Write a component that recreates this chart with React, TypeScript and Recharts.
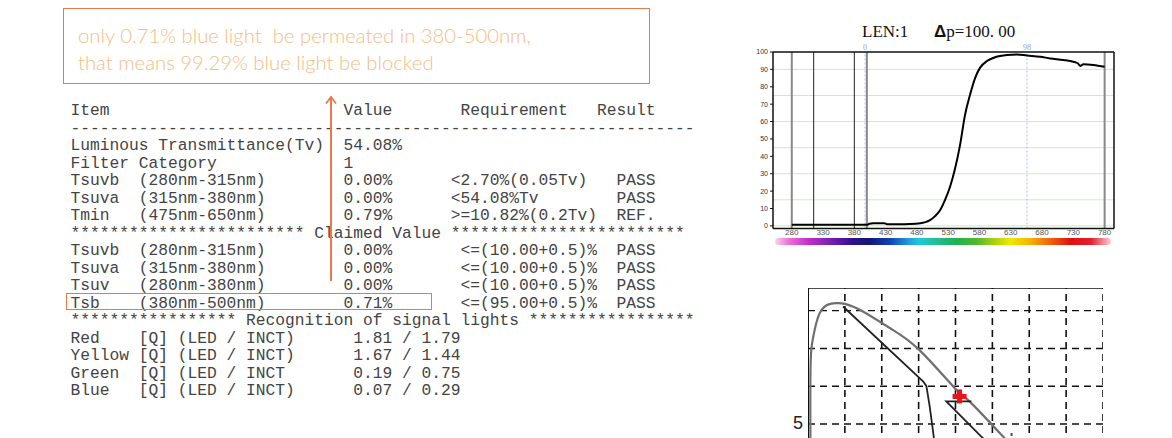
import React from 'react';
import { LineChart, ComposedChart, Line, XAxis, YAxis, ReferenceLine } from 'recharts';

// transmittance curve (nm -> %)
const wavelengths = [280, 320, 360, 400, 404, 410, 428, 432, 460, 478, 488, 495, 501, 509, 517, 525, 533, 541, 549, 557, 565, 573, 581, 592, 605, 624, 640, 656, 677, 693, 714, 730, 737, 741, 746, 762, 780];
const transmittance = [0.6, 0.6, 0.6, 0.6, 1.2, 1.5, 1.5, 1.0, 1.0, 1.2, 1.7, 2.3, 3.3, 5.6, 9, 15, 22.5, 33, 46.6, 64, 75.5, 85, 91, 94.8, 97, 98.3, 98.6, 98, 97.3, 96.3, 95.4, 94.4, 93.5, 92, 92.9, 92.5, 91.5];
const xTicks = [280, 330, 380, 430, 480, 530, 580, 630, 680, 730, 780];
const yTicks = [0, 10, 20, 30, 40, 50, 60, 70, 80, 90, 100];
const greenGrid = [0, 15, 30, 45, 60, 75, 90];
const thickMarkers = [280, 400, 780];
const thinMarkers = [315, 380];
const cursorAt = [397, 656];
const cursorLabels = ['0', '98'];

// CIE fragment
const locusX = [0.03, 0.012, 0.0065, 0.0065, 0.009, 0.018, 0.032, 0.054, 0.077, 0.1, 0.149, 0.222, 0.301, 0.398, 0.438, 0.529, 0.56];
const locusY = [0.36, 0.42, 0.467, 0.617, 0.697, 0.749, 0.794, 0.816, 0.82, 0.818, 0.798, 0.754, 0.697, 0.595, 0.56, 0.467, 0.435];
const innerX = [0.095, 0.312, 0.321, 0.33, 0.341, 0.345];
const innerY = [0.811, 0.613, 0.601, 0.547, 0.467, 0.42];
const yellowX = [0.443, 0.375, 0.47, 0.52];
const yellowY = [0.56, 0.56, 0.467, 0.42];
const cieGridX = [0.1, 0.2, 0.3, 0.4, 0.5, 0.6, 0.7, 0.8];
const cieGridY = [0.1, 0.2, 0.3, 0.4, 0.5, 0.6, 0.7, 0.8];
const markerPoint = [{ x: 0.411, y: 0.573 }];
const bluePoint = [{ x: 0.552, y: 0.471 }];

// report text
const header = ['Item', 'Value', 'Requirement', 'Result'];
const measuredRows = [
  ['Luminous Transmittance(Tv)', '', '54.08%', '', ''],
  ['Filter Category', '', '1', '', ''],
  ['Tsuvb', '(280nm-315nm)', '0.00%', '<2.70%(0.05Tv)', 'PASS'],
  ['Tsuva', '(315nm-380nm)', '0.00%', '<54.08%Tv', 'PASS'],
  ['Tmin', '(475nm-650nm)', '0.79%', '>=10.82%(0.2Tv)', 'REF.'],
];
const claimedRows = [
  ['Tsuvb', '(280nm-315nm)', '0.00%', '<=(10.00+0.5)%', 'PASS'],
  ['Tsuva', '(315nm-380nm)', '0.00%', '<=(10.00+0.5)%', 'PASS'],
  ['Tsuv', '(280nm-380nm)', '0.00%', '<=(10.00+0.5)%', 'PASS'],
  ['Tsb', '(380nm-500nm)', '0.71%', '<=(95.00+0.5)%', 'PASS'],
];
const signalRows = [
  ['Red', '[Q] (LED / INCT)', '1.81 / 1.79'],
  ['Yellow', '[Q] (LED / INCT)', '1.67 / 1.44'],
  ['Green', '[Q] (LED / INCT', '0.19 / 0.75'],
  ['Blue', '[Q] (LED / INCT)', '0.07 / 0.29'],
];
const noteLines = ['only 0.71% blue light  be permeated in 380-500nm,', 'that means 99.29% blue light be blocked'];

const zip = (xs: number[], ys: number[]) => xs.map((x, i) => ({ x, y: ys[i] }));

function compose(cols: string[], starts: number[]) {
  let s = '';
  cols.forEach((c, i) => {
    if (!c) return;
    s = s.padEnd(starts[i]) + c;
  });
  return s;
}

const ORANGE = '#E9784D';

const Cross = (p: any) => (
  <g>
    <rect x={p.cx - 7} y={p.cy - 2.5} width={14} height={5} fill="#e8141c" />
    <rect x={p.cx - 2.5} y={p.cy - 7} width={5} height={14} fill="#e8141c" />
  </g>
);
const BlueDot = (p: any) => <rect x={p.cx - 1} y={p.cy - 2} width={2} height={3} fill="#3040c0" />;

export default function App() {
  const curve = wavelengths.map((nm, i) => ({ nm, t: transmittance[i] }));
  const lines = [
    compose(header, [0, 28, 40, 54]),
    '-'.repeat(64),
    ...measuredRows.map((r) => compose(r, [0, 7, 28, 39, 56])),
    '*'.repeat(24) + ' Claimed Value ' + '*'.repeat(24),
    ...claimedRows.map((r) => compose(r, [0, 7, 28, 40, 56])),
    '*'.repeat(17) + ' Recognition of signal lights ' + '*'.repeat(17),
    ...signalRows.map((r) => compose(r, [0, 7, 29])),
  ];

  return (
    <div style={{ position: 'fixed', left: 0, top: 0, width: 1172, height: 438, overflow: 'hidden', background: '#fff' }}>
      {/* annotation */}
      <div style={{ position: 'absolute', left: 63, top: 7.5, width: 587, height: 76.5, boxSizing: 'border-box', border: `1.5px solid ${ORANGE}` }} />
      <div style={{ position: 'absolute', left: 78, top: 21.5, font: '300 20.3px/27px Lato, sans-serif', color: '#F3BD88', whiteSpace: 'pre' }}>
        {noteLines.join('\n')}
      </div>

      {/* report table */}
      <pre style={{ position: 'absolute', left: 70.5, top: 102, margin: 0, font: '16.25px/17.5px "Liberation Mono", monospace', color: '#444' }}>
        {lines.join('\n')}
      </pre>
      <div style={{ position: 'absolute', left: 66, top: 292.5, width: 366, height: 17, boxSizing: 'border-box', border: `1.5px solid ${ORANGE}` }} />
      <svg style={{ position: 'absolute', left: 0, top: 0 }} width={1172} height={438}>
        <line x1={331} y1={281} x2={331} y2={98} stroke={ORANGE} strokeWidth={2} />
        <polyline points="326,103.5 331,97 336,103.5" fill="none" stroke={ORANGE} strokeWidth={1.8} />
      </svg>

      {/* transmittance chart */}
      <div style={{ position: 'absolute', left: 862, top: 22, font: '17px "Liberation Serif", serif', color: '#111', whiteSpace: 'pre' }}>LEN:1</div>
      <div style={{ position: 'absolute', left: 934, top: 22, font: '17px "Liberation Serif", serif', color: '#111', whiteSpace: 'pre' }}>
        <b style={{ fontFamily: '"Liberation Sans", sans-serif' }}>Δ</b>p=100. 00
      </div>
      <div style={{ position: 'absolute', left: 740, top: 40 }}>
        <LineChart width={390} height={210} data={curve} margin={{ top: 12, right: 16, bottom: 1.5, left: 1 }}>
          <XAxis type="number" dataKey="nm" domain={[250, 795]} ticks={xTicks} allowDataOverflow
            axisLine={{ stroke: '#111', strokeWidth: 1.5 }} tickLine={false} tickSize={0} tickMargin={1} height={20}
            tick={{ fontSize: 8, fill: '#555', fontFamily: '"Liberation Sans", sans-serif' }} />
          <YAxis type="number" domain={[-1.5, 100]} ticks={yTicks} allowDataOverflow width={32}
            axisLine={{ stroke: '#111', strokeWidth: 1.5 }} tickLine={{ stroke: '#111' }} tickSize={3} tickMargin={2}
            tick={{ fontSize: 7, fill: '#333', fontFamily: '"Liberation Sans", sans-serif' }} />
          {greenGrid.map((v) => <ReferenceLine key={'g' + v} y={v} stroke="#cfe9c2" strokeWidth={1} />)}
          {thinMarkers.map((v) => <ReferenceLine key={'t' + v} x={v} stroke="#222" strokeWidth={1} />)}
          {thickMarkers.map((v) => <ReferenceLine key={'k' + v} x={v} stroke="#888" strokeWidth={2} />)}
          {cursorAt.map((v, i) => (
            <ReferenceLine key={'c' + v} x={v} stroke="#b8bcd8" strokeDasharray="2 2" strokeWidth={1}
              label={{ value: cursorLabels[i], position: 'top', offset: 2, fill: '#9a9ade', fontSize: 8 }} />
          ))}
          <ReferenceLine y={100} stroke="#111" strokeWidth={1.5} />
          <ReferenceLine x={795} stroke="#111" strokeWidth={1.5} />
          <Line type="monotone" dataKey="t" stroke="#000" strokeWidth={2} dot={false} isAnimationActive={false} />
        </LineChart>
      </div>
      <div style={{
        position: 'absolute', left: 775, top: 238, width: 336, height: 7, borderRadius: 4,
        background: 'linear-gradient(to right, #fbd3ec 0%, #f070d8 4%, #c030c8 10%, #7020b0 17%, #301090 23%, #101878 28%, #1040b0 34%, #20a0e0 40%, #20c8d8 43%, #20c090 48%, #20b050 54%, #50b830 60%, #a8d010 65%, #f0e800 70%, #f8b000 76%, #f06010 82%, #e01010 88%, #e02030 94%, #fbd0d8 100%)',
      }} />

      {/* CIE fragment */}
      <div style={{ position: 'absolute', left: 793, top: 413, font: '18px "Liberation Sans", sans-serif', color: '#222' }}>5</div>
      <div style={{ position: 'absolute', left: 808, top: 288 }}>
        <ComposedChart width={295} height={325} margin={{ top: 0, right: 0, bottom: 0, left: 0 }}>
          <XAxis type="number" dataKey="x" domain={[0, 0.8]} hide allowDataOverflow />
          <YAxis type="number" dataKey="y" domain={[0, 0.86]} hide allowDataOverflow />
          {cieGridX.map((v) => <ReferenceLine key={'vx' + v} x={v} stroke="#111" strokeDasharray="7 5" strokeWidth={1.6} />)}
          {cieGridY.map((v) => <ReferenceLine key={'hy' + v} y={v} stroke="#111" strokeDasharray="7 5" strokeWidth={1.4} />)}
          <ReferenceLine x={0} stroke="#111" strokeWidth={2} />
          <ReferenceLine y={0.86} stroke="#111" strokeWidth={1.5} />
          <Line data={zip(locusX, locusY)} dataKey="y" type="natural" stroke="#707070" strokeWidth={2.2} dot={false} isAnimationActive={false} />
          <Line data={zip(innerX, innerY)} dataKey="y" type="linear" stroke="#222" strokeWidth={1.8} dot={false} isAnimationActive={false} />
          <Line data={zip(yellowX, yellowY)} dataKey="y" type="linear" stroke="#222" strokeWidth={1.8} dot={false} isAnimationActive={false} />
          <Line data={markerPoint} dataKey="y" stroke="none" dot={Cross} isAnimationActive={false} />
          <Line data={bluePoint} dataKey="y" stroke="none" dot={BlueDot} isAnimationActive={false} />
        </ComposedChart>
      </div>
    </div>
  );
}
